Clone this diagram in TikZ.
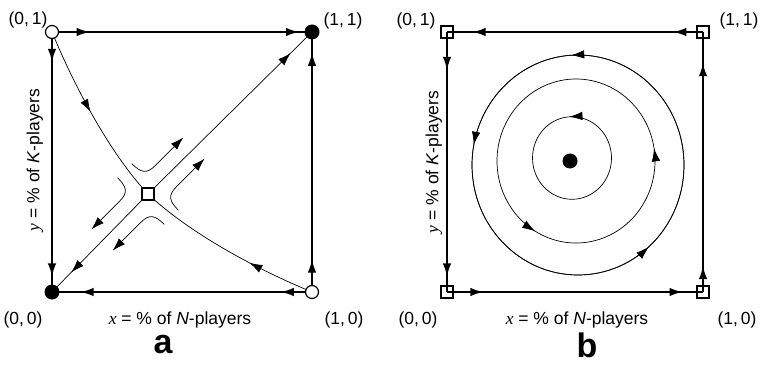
\documentclass[tikz,border=0pt]{standalone}
\usepackage{fontspec}
\setmainfont{Liberation Sans}
\newfontfamily\timesit{Liberation Serif}[ItalicFont={* Italic}]
\newcommand{\var}[1]{{\timesit\itshape #1}}
\usetikzlibrary{arrows.meta,decorations.markings}

\begin{document}
\begin{tikzpicture}[x=1pt,y=1pt,>={Latex[length=13pt,width=8.5pt]},
  edge/.style={line width=1.7pt},
  traj/.style={line width=0.7pt},
  opendot/.style={circle,draw,line width=1.2pt,fill=white,minimum size=13pt,inner sep=0pt},
  fulldot/.style={circle,fill,minimum size=15pt,inner sep=0pt},
  sqmark/.style={rectangle,draw,line width=1.2pt,minimum size=12pt,inner sep=0pt},
  lbl/.style={font=\fontsize{17.5}{20}\selectfont},
  panel/.style={font=\fontsize{34}{40}\selectfont\bfseries},
  flow/.style 2 args={postaction={decorate},decoration={markings,
    mark=at position #1 with {\arrow{>}},mark=at position #2 with {\arrow{>}}}},
  flowone/.style={postaction={decorate},decoration={markings,
    mark=at position #1 with {\arrow{>}}}}]
\useasboundingbox (0,0) rectangle (762,378);

% panel a
\coordinate (a00) at (52,86);
\coordinate (a10) at (312,86);
\coordinate (a01) at (52,346);
\coordinate (a11) at (312,346);
\coordinate (sad) at (148,184);
\draw[edge,flow={0.145}{0.95}] (a01) -- (a11);
\draw[edge,flow={0.115}{0.94}] (a01) -- (a00);
\draw[edge,flow={0.12}{0.89}] (a10) -- (a00);
\draw[edge,flow={0.125}{0.92}] (a10) -- (a11);
\draw[traj,flowone=0.87] (sad) -- (a11);
\draw[traj,flowone=0.8] (sad) -- (a00);
\draw[traj,flowone=0.47] (a01) .. controls (78,283) and (114,220) .. (sad);
\draw[traj,flowone=0.36] (a10) .. controls (249,112) and (186,148) .. (sad);
\begin{scope}[shift={(sad)},rotate=45]
  \foreach \su/\sv in {1/1,1/-1,-1/1,-1/-1}
    \draw[traj,->] (\su*10,\sv*33) .. controls (\su*10,\sv*20) and (\su*13,\sv*15)
      .. (\su*25,\sv*15) -- (\su*65,\sv*15);
\end{scope}
\node[sqmark,fill=white] (sadm) at (sad) {};
\node[opendot] (m01) at (a01) {};
\node[opendot] (m10) at (a10) {};
\node[fulldot] (m11) at (a11) {};
\node[fulldot] (m00) at (a00) {};
\node[lbl] (la01) at (28,358) {(0,\,1)};
\node[lbl] (la11) at (343,357) {(1,\,1)};
\node[lbl] (la00) at (23,58) {(0,\,0)};
\node[lbl] (la10) at (344,58) {(1,\,0)};
\node[lbl] (xlaba) at (180,58) {\var{x} = \% of \textit{N}-players};
\node[lbl,rotate=90] (ylaba) at (35,218) {\var{y} = \% of \textit{K}-players};
\node[panel] (pa) at (163,33) {a};

% panel b
\coordinate (b00) at (447,86);
\coordinate (b10) at (703,86);
\coordinate (b01) at (447,346);
\coordinate (b11) at (703,346);
\coordinate (ctr) at (570,217);
\draw[edge,flow={0.116}{0.9}] (b11) -- (b01);
\draw[edge,flow={0.146}{0.94}] (b01) -- (b00);
\draw[edge,flow={0.142}{0.92}] (b00) -- (b10);
\draw[edge,flow={0.1}{0.88}] (b10) -- (b11);
\draw[traj,flowone=0.26] (572,220) ellipse [x radius=39.5pt,y radius=41.3pt];
\draw[traj,flow={0.025}{0.665}] (576,217) ellipse [x radius=79pt,y radius=82pt];
\draw[traj,flow={0.26}{0.47}] (578,213) ellipse [x radius=106pt,y radius=110pt];
\draw[traj,flowone=0.865] (578,213) ellipse [x radius=106pt,y radius=110pt];
\node[sqmark] (n00) at (b00) {};
\node[sqmark] (n10) at (b10) {};
\node[sqmark] (n01) at (b01) {};
\node[sqmark] (n11) at (b11) {};
\node[fulldot] (nc) at (ctr) {};
\node[lbl] (lb01) at (416,357) {(0,\,1)};
\node[lbl] (lb11) at (739,357) {(1,\,1)};
\node[lbl] (lb00) at (418,58) {(0,\,0)};
\node[lbl] (lb10) at (737,58) {(1,\,0)};
\node[lbl] (xlabb) at (577,58) {\var{x} = \% of \textit{N}-players};
\node[lbl,rotate=90] (ylabb) at (434,216) {\var{y} = \% of \textit{K}-players};
\node[panel] (pb) at (587,33) {b};
\end{tikzpicture}
\end{document}
